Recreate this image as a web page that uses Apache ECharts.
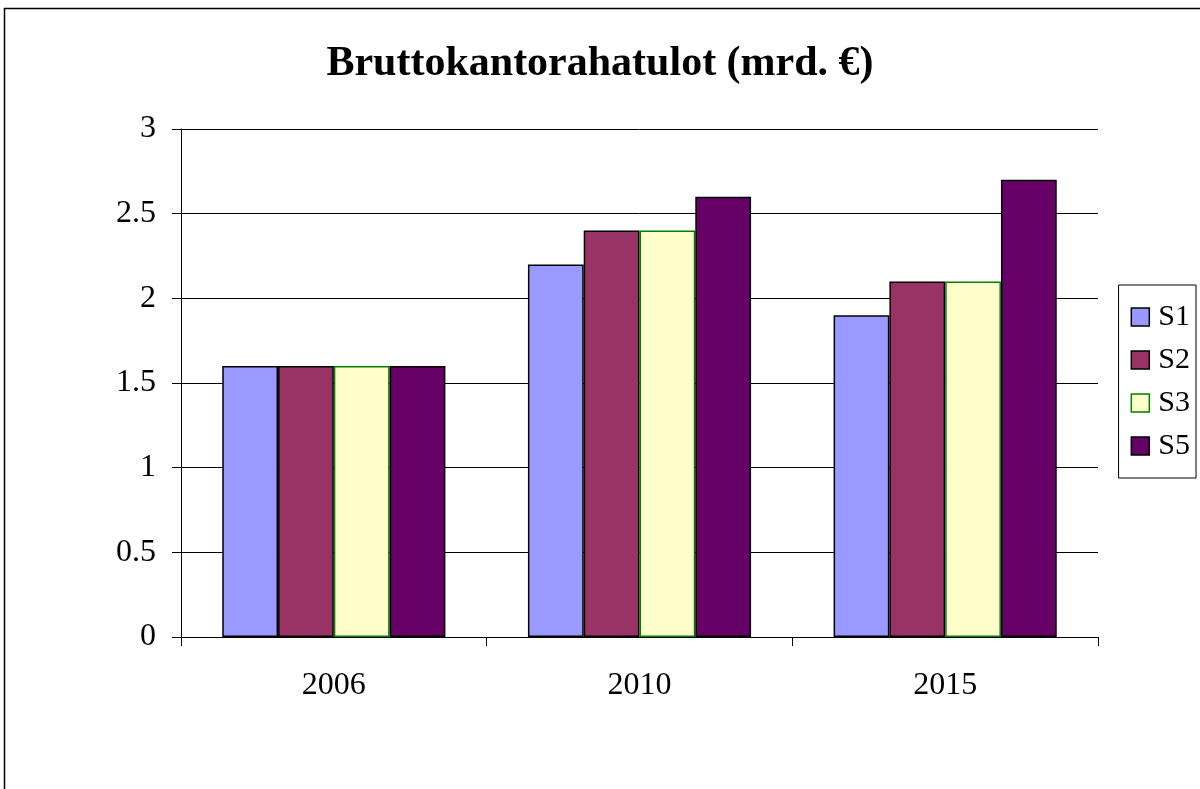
<!DOCTYPE html>
<html>
<head>
<meta charset="utf-8">
<script src="https://cdn.jsdelivr.net/npm/echarts@6/dist/echarts.min.js"></script>
<style>
  html, body { margin: 0; padding: 0; background: #fff; }
  #chart { width: 1200px; height: 789px; }
</style>
</head>
<body>
<div id="chart"></div>
<script>
var years = ['2006', '2010', '2015'];
var s1 = [1.6, 2.2, 1.9];
var s2 = [1.6, 2.4, 2.1];
var s3 = [1.6, 2.4, 2.1];
var s5 = [1.6, 2.6, 2.7];
var seriesNames = ['S1', 'S2', 'S3', 'S5'];
var fills = ['#9999FF', '#993366', '#FFFFCC', '#660066'];
var edges = ['#000', '#000', '#008000', '#000'];

var font = 'Liberation Serif';
var chart = echarts.init(document.getElementById('chart'));

function bar(i, data) {
  return {
    name: seriesNames[i],
    type: 'bar',
    data: data,
    barGap: '0%',
    barCategoryGap: '27%',
    itemStyle: { color: fills[i], borderColor: edges[i], borderWidth: 1.5 }
  };
}

var option = {
  animation: false,
  title: {
    text: 'Bruttokantorahatulot (mrd. €)',
    left: 'center',
    top: 38,
    textStyle: { fontFamily: font, fontSize: 42, fontWeight: 'bold', color: '#000' }
  },
  legend: {
    data: seriesNames.map(function (n, i) {
      return { name: n, itemStyle: { color: fills[i], borderColor: edges[i], borderWidth: 1.5 } };
    }),
    orient: 'vertical',
    right: 4,
    top: 285,
    icon: 'rect',
    itemWidth: 18,
    itemHeight: 18,
    itemGap: 13,
    padding: [17, 6, 17, 12],
    borderColor: '#000',
    borderWidth: 1,
    backgroundColor: '#fff',
    textStyle: { fontFamily: font, fontSize: 30, lineHeight: 30, color: '#000', padding: [0, 0, 0, 4] }
  },
  grid: { left: 181, right: 102, top: 129, bottom: 152 },
  xAxis: {
    type: 'category',
    data: years,
    axisLine: { lineStyle: { color: '#000', width: 1 } },
    axisTick: { show: true, length: 9, lineStyle: { color: '#000' } },
    axisLabel: { fontFamily: font, fontSize: 32, color: '#000', margin: 33 }
  },
  yAxis: {
    type: 'value',
    min: 0,
    max: 3,
    interval: 0.5,
    axisLine: { show: true, lineStyle: { color: '#000', width: 1 } },
    axisTick: { show: true, length: 9, lineStyle: { color: '#000' } },
    axisLabel: { fontFamily: font, fontSize: 32, color: '#000', margin: 25 },
    splitLine: { show: true, lineStyle: { color: '#000', width: 1 } }
  },
  graphic: [{
    type: 'rect',
    shape: { x: 4.5, y: 8.5, width: 1200, height: 800 },
    style: { fill: null, stroke: '#000', lineWidth: 1.5 },
    silent: true
  }],
  series: [bar(0, s1), bar(1, s2), bar(2, s3), bar(3, s5)]
};
chart.setOption(option);
</script>
</body>
</html>
